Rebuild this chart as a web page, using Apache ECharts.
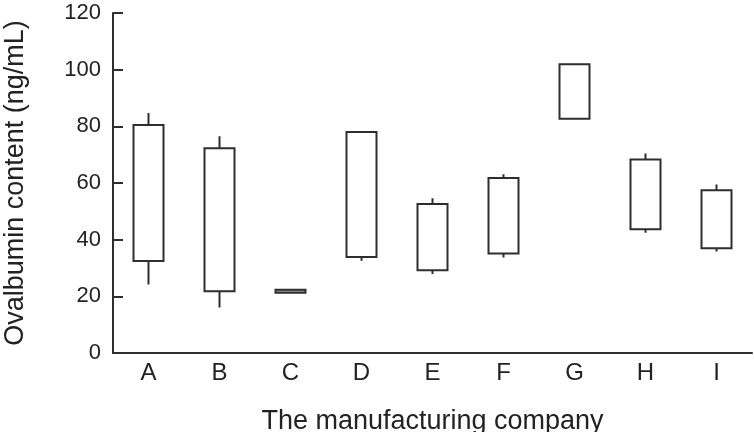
<!DOCTYPE html>
<html>
<head>
<meta charset="utf-8">
<script src="https://cdn.jsdelivr.net/npm/echarts@6/dist/echarts.min.js"></script>
<style>html,body{margin:0;padding:0;background:#fff;}#c{width:754px;height:432px;}</style>
</head>
<body>
<div id="c"></div>
<script>
var categories = ['A','B','C','D','E','F','G','H','I'];
var boxBottom = [32.5, 21.8, 21.3, 33.9, 29.2, 35.1, 82.7, 43.7, 37.0];
var boxTop    = [80.5, 72.3, 22.3, 78.0, 52.6, 61.8, 101.9, 68.3, 57.4];
var whiskerLow  = [24.2, 16.1, 21.3, 32.6, 27.9, 33.7, 82.7, 42.4, 35.8];
var whiskerHigh = [84.7, 76.5, 22.3, 78.0, 54.6, 63.1, 101.9, 70.4, 59.5];
var yTicks = [0, 20, 40, 60, 80, 100, 120];

var FONT = "'Liberation Sans', Arial, sans-serif";
var INK = '#2e2e2e';

var data = categories.map(function (c, i) {
  var item = { value: [boxBottom[i], boxTop[i], whiskerLow[i], whiskerHigh[i]] };
  if (c === 'C') item.itemStyle = { color: '#9a9a9a', color0: '#9a9a9a' };
  return item;
});

var chart = echarts.init(document.getElementById('c'), null, { renderer: 'canvas' });
chart.setOption({
  animation: false,
  backgroundColor: '#ffffff',
  grid: { left: 113, right: 2, top: 13, bottom: 79, containLabel: false, outerBoundsMode: 'none' },
  xAxis: {
    type: 'category',
    data: categories,
    boundaryGap: true,
    name: 'The manufacturing company',
    nameLocation: 'middle',
    nameGap: 55,
    nameTextStyle: { fontFamily: FONT, fontSize: 27, color: '#222' },
    axisLine: { lineStyle: { color: INK, width: 2 } },
    axisTick: { inside: true, length: 10, lineStyle: { color: INK, width: 2 }, alignWithLabel: false },
    axisLabel: { fontFamily: FONT, fontSize: 24, color: '#222', margin: 8 }
  },
  yAxis: {
    type: 'value',
    min: yTicks[0],
    max: yTicks[yTicks.length - 1],
    interval: yTicks[1] - yTicks[0],
    name: 'Ovalbumin content (ng/mL)',
    nameLocation: 'middle',
    nameGap: 84,
    nameTextStyle: { fontFamily: FONT, fontSize: 27, color: '#222' },
    splitLine: { show: false },
    axisLine: { show: true, lineStyle: { color: INK, width: 2 } },
    axisTick: { show: true, inside: true, length: 10, lineStyle: { color: INK, width: 2 } },
    axisLabel: { fontFamily: FONT, fontSize: 22, color: '#222', margin: 12 }
  },
  series: [{
    type: 'candlestick',
    data: data,
    barWidth: 30,
    itemStyle: {
      color: '#ffffff',
      color0: '#ffffff',
      borderColor: INK,
      borderColor0: INK,
      borderWidth: 2
    }
  }]
});
</script>
</body>
</html>
